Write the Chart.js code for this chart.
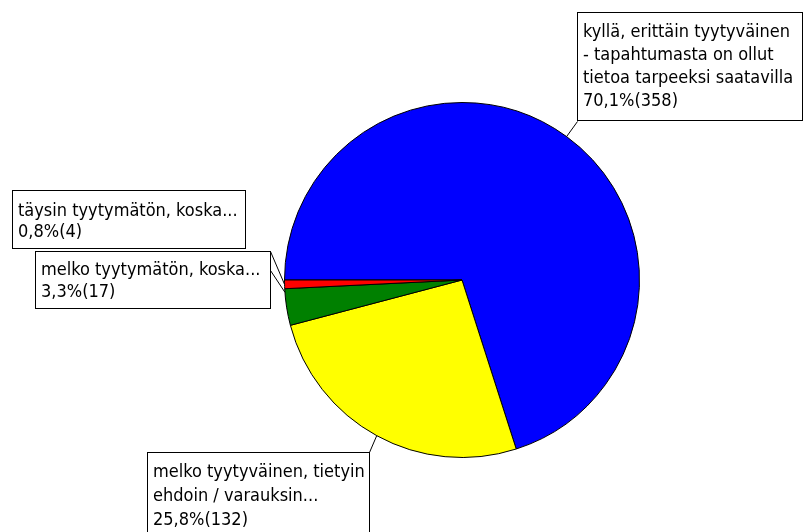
<!DOCTYPE html>
<html>
<head>
<meta charset="utf-8">
<script src="https://cdn.jsdelivr.net/npm/chart.js@4/dist/chart.umd.min.js"></script>
<style>
  html, body { margin: 0; padding: 0; background: #fff; }
  #wrap { width: 803px; height: 532px; position: relative; }
</style>
</head>
<body>
<div id="wrap"><canvas id="c" width="803" height="532"></canvas></div>
<script>
// Answers to the satisfaction question, in drawing order (clockwise from 9 o'clock)
const categories = [
  'kyllä, erittäin tyytyväinen - tapahtumasta on ollut tietoa tarpeeksi saatavilla',
  'melko tyytyväinen, tietyin ehdoin / varauksin...',
  'melko tyytymätön, koska...',
  'täysin tyytymätön, koska...'
];
const counts = [358, 132, 17, 4];
const sliceColors = ['#0000FF', '#FFFF00', '#008000', '#FF0000'];

// Category text as it is wrapped inside the callout boxes
const labelLines = [
  ['kyllä, erittäin tyytyväinen', '- tapahtumasta on ollut', 'tietoa tarpeeksi saatavilla'],
  ['melko tyytyväinen, tietyin', 'ehdoin / varauksin...'],
  ['melko tyytymätön, koska...'],
  ['täysin tyytymätön, koska...']
];

const total = counts.reduce((a, b) => a + b, 0);
const valueText = counts.map(v => (v / total * 100).toFixed(1).replace('.', ',') + '%(' + v + ')');

// Callout boxes: box rectangle, first text line centre (from box top), line step,
// the point where the leader leaves the box, and where it meets the pie
const callouts = [
  { box: [577, 12, 225, 108], first: 20, step: 23, from: [577, 121], at: 'mid' },
  { box: [147, 452, 222, 100], first: 20, step: 24, from: [369, 452], at: 'mid' },
  { box: [35, 251, 235, 57], first: 19, step: 22, from: [270, 270], at: 'end' },
  { box: [12, 190, 233, 58], first: 21, step: 21, from: [270, 251], at: 'mid' }
];

const FONT = '18px "Liberation Sans Narrow", "DejaVu Sans Condensed", "Liberation Sans", sans-serif';

const calloutPlugin = {
  id: 'callouts',
  afterDraw(chart) {
    const ctx = chart.ctx;
    const arcs = chart.getDatasetMeta(0).data;
    ctx.save();
    // leader lines
    ctx.strokeStyle = '#000';
    ctx.lineWidth = 1;
    callouts.forEach((c, i) => {
      const a = arcs[i];
      const ang = c.at === 'end' ? a.endAngle - 0.02 : (a.startAngle + a.endAngle) / 2;
      const px = a.x + Math.cos(ang) * a.outerRadius;
      const py = a.y + Math.sin(ang) * a.outerRadius;
      ctx.beginPath();
      ctx.moveTo(c.from[0] + 0.5, c.from[1] + 0.5);
      ctx.lineTo(px, py);
      ctx.stroke();
    });
    // boxes and texts
    ctx.font = FONT;
    ctx.textBaseline = 'middle';
    ctx.textAlign = 'left';
    callouts.forEach((c, i) => {
      const [x, y, w, h] = c.box;
      ctx.fillStyle = '#fff';
      ctx.fillRect(x, y, w, h);
      ctx.strokeStyle = '#000';
      ctx.strokeRect(x + 0.5, y + 0.5, w, h);
      ctx.fillStyle = '#000';
      const lines = labelLines[i].concat([valueText[i]]);
      lines.forEach((t, k) => {
        ctx.fillText(t, x + 6, y + c.first + k * c.step);
      });
    });
    ctx.restore();
  }
};

new Chart(document.getElementById('c'), {
  type: 'pie',
  data: {
    labels: categories,
    datasets: [{
      data: counts,
      backgroundColor: sliceColors,
      borderColor: '#000',
      borderWidth: 1
    }]
  },
  options: {
    responsive: false,
    animation: false,
    rotation: 270,
    layout: { padding: { left: 284, right: 163, top: 102, bottom: 74 } },
    plugins: {
      legend: { display: false },
      tooltip: { enabled: false }
    }
  },
  plugins: [calloutPlugin]
});
</script>
</body>
</html>
